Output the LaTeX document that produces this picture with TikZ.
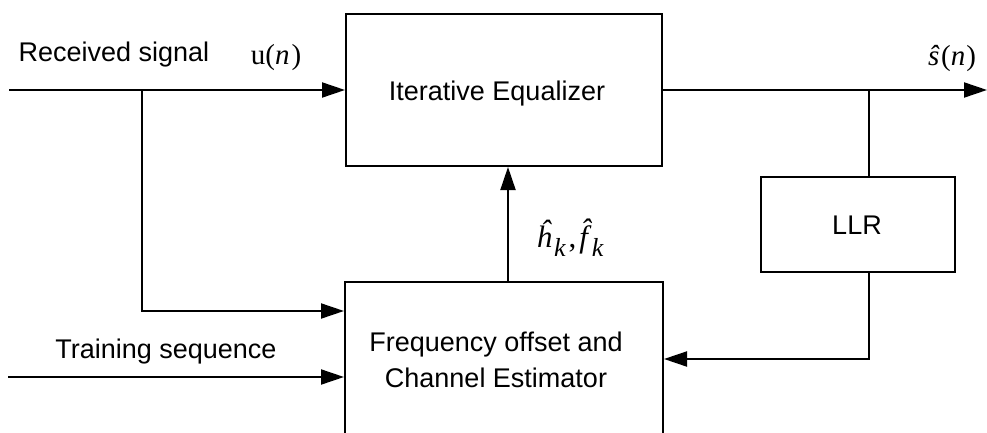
\documentclass[tikz,border=0pt]{standalone}
\usepackage{fontspec}
\newfontfamily\labelfont{Liberation Sans}
\newfontfamily\symfont{Liberation Serif}
\usetikzlibrary{arrows.meta}
% lowered, slightly smaller italic index
\newcommand{\lowsub}[1]{\raisebox{-9pt}{\fontsize{26}{28}\selectfont\itshape #1}}
% italic f with a circumflex set above its ascender
\newcommand{\hatf}{{\itshape\ooalign{f\cr\hidewidth\kern4pt\raisebox{6.5pt}{ˆ}\hidewidth\cr}}}
\begin{document}
\begin{tikzpicture}[x=1pt,y=-1pt,line width=2pt,
  blockbox/.style={draw,rectangle,line width=2pt,inner sep=0pt},
  blocktext/.style={font=\labelfont\fontsize{27}{36}\selectfont,anchor=base,align=center,inner sep=0pt},
  mathlabel/.style={font=\symfont\fontsize{29}{32}\selectfont,anchor=base,inner sep=0pt},
  sig/.style={-{Triangle[length=23pt,width=15pt]}}]
\useasboundingbox (0,0) rectangle (987,433);
\fill[white] (0,0) rectangle (987,433);

% processing blocks
\node[blockbox,minimum width=316pt,minimum height=152pt] (eq) at (504,90) {};
\node[blockbox,minimum width=318pt,minimum height=156pt] (est) at (504,360) {};
\node[blockbox,minimum width=194pt,minimum height=95pt] (llr) at (858,224.5) {};

% block captions (base anchor sits on the last line)
\node[blocktext] (eqtext) at (497,101) {Iterative Equalizer};
\node[blocktext] (esttext) at (496,387) {Frequency offset and\\Channel Estimator};
\node[blocktext] (llrtext) at (857,234) {LLR};

% signal labels
\node[blocktext] (rxtext) at (114,62) {Received signal};
\node[blocktext] (trtext) at (166,358) {Training sequence};
\node[mathlabel] (utext) at (276,65) {u(\textit{n}\kern2pt)};
\node[mathlabel] (shat) at (952,66) {\textit{ŝ}\kern1.5pt(\textit{n}\kern1pt)};
\node[mathlabel,font=\symfont\fontsize{31}{34}\selectfont] (hf) at (570,247)
  {\textit{ĥ}\kern2pt\lowsub{k}\kern3pt,\kern3pt\hatf\kern4pt\lowsub{k}};

% free ends and junctions
\coordinate (rxin) at (9,90);
\coordinate (split) at (142,90);
\coordinate (trin) at (8,377);
\coordinate (out) at (987,90);
\coordinate (tap) at (869,90);
\coordinate (est2eq) at (508,0);

% connections
\draw[sig] (rxin) -- (eq.west);
\draw[sig] (split) |- (est.west |- 0,311);
\draw[sig] (trin) -- (est.west |- 0,377);
\draw[sig] (eq.east) -- (out);
\draw (tap) -- (tap |- llr.north);
\draw[sig] (tap |- llr.south) |- (est.east |- 0,359);
\draw[sig] (est.north -| est2eq) -- (eq.south -| est2eq);
\end{tikzpicture}
\end{document}
